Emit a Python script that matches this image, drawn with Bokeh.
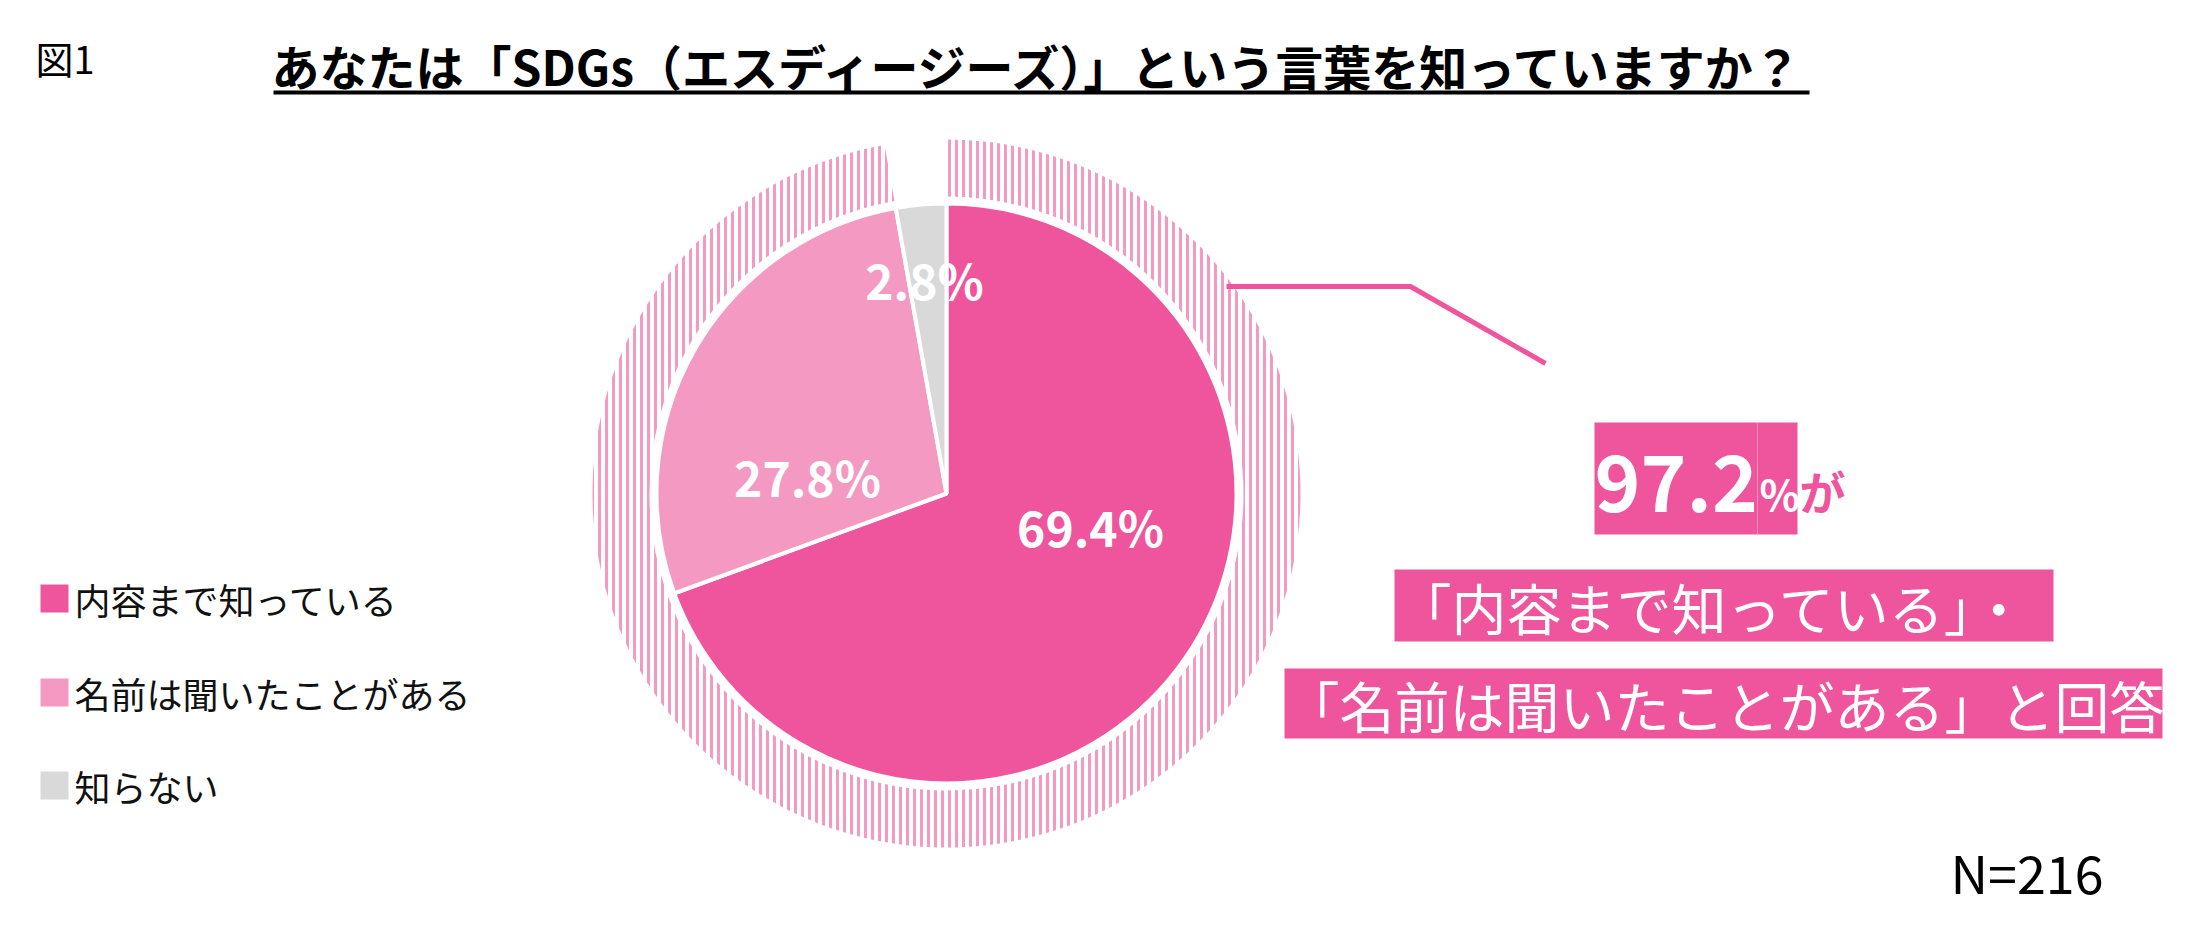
from bokeh.plotting import figure
from bokeh.models import Range1d
from bokeh.core.properties import value
from bokeh.embed import file_html
from bokeh.resources import INLINE
import numpy as np

# ---------------- data ----------------
categories = ["内容まで知っている", "名前は聞いたことがある", "知らない"]
values = [69.4, 27.8, 2.8]
pct_labels = ["69.4%", "27.8%", "2.8%"]
aware_total = 97.2
title_text = "あなたは「SDGs（エスディージーズ）」という言葉を知っていますか？"
fig_label = "図1"
n_label = "N=216"
callout_number = "97.2"
callout_pct = "%"
callout_ga = "が"
callout_line1 = "「内容まで知っている」・"
callout_line2 = "「名前は聞いたことがある」と回答"

# ---------------- styles ----------------
colors = ["#EF559C", "#F49AC2", "#D9D9D9"]
PINK = "#EF559C"
RING = "#F49AC2"
JP = value("Noto Sans CJK JP")

W, H = 2196, 913
PAGE_H = 929


def Y(v):
    return PAGE_H - v  # screen y -> data y


p = figure(width=W, height=H, x_range=Range1d(0, W), y_range=Range1d(PAGE_H - H, PAGE_H),
           output_backend="svg", toolbar_location=None, min_border=0,
           x_axis_type=None, y_axis_type=None)
p.grid.visible = False
p.outline_line_color = None
p.background_fill_color = "white"
p.border_fill_color = "white"

# ---------------- pie ----------------
cx, cy = 946, Y(493)
R = 290
frac = np.array(values) / sum(values)
cum = np.concatenate([[0], np.cumsum(frac)])
start = np.pi / 2 - cum[:-1] * 2 * np.pi
end = np.pi / 2 - cum[1:] * 2 * np.pi

# outer hatched ring showing the "aware" share
p.annular_wedge(x=cx, y=cy, inner_radius=297, outer_radius=354,
                start_angle=np.pi / 2, end_angle=np.pi / 2 - aware_total / 100 * 2 * np.pi,
                direction="clock", fill_color="white", line_color=None,
                hatch_pattern="vertical_line", hatch_color=RING, hatch_weight=3, hatch_scale=7)

p.wedge(x=cx, y=cy, radius=R, start_angle=start, end_angle=end, direction="clock",
        fill_color=colors, line_color="white", line_width=4)

label_offsets = [(144, -32), (-139, 18), (-22, 215)]
p.text(x=[cx + d[0] for d in label_offsets], y=[cy + d[1] for d in label_offsets], text=pct_labels,
       text_font=JP, text_font_style="bold", text_font_size="48px", text_color="white",
       text_align="center", text_baseline="middle")

# ---------------- title ----------------
p.text(x=[35], y=[Y(57)], text=[fig_label], text_font=JP, text_font_size="38px",
       text_color="black", text_align="left", text_baseline="middle")
p.text(x=[271], y=[Y(64)], text=[title_text], text_font=JP, text_font_style="bold",
       text_font_size="48px", text_color="black", text_align="left", text_baseline="middle")
p.segment(x0=[273], y0=[Y(92)], x1=[1809], y1=[Y(92)], line_color="black", line_width=4)

# ---------------- legend ----------------
leg_y = [598, 692, 785]
p.rect(x=[54] * 3, y=[Y(v) for v in leg_y], width=28, height=28, fill_color=colors, line_color=None)
p.text(x=[74] * 3, y=[Y(v) for v in leg_y], text=categories, text_font=JP, text_font_size="36px",
       text_color="#111111", text_align="left", text_baseline="middle")

# ---------------- callout ----------------
p.line(x=[1226, 1410, 1545], y=[Y(286), Y(286), Y(363)], line_color=PINK, line_width=5)

p.quad(left=[1594, 1394, 1284], right=[1797, 2053, 2162],
       top=[Y(422), Y(569), Y(668)], bottom=[Y(534), Y(641), Y(738)],
       fill_color=PINK, line_color=None)
p.segment(x0=[1757], y0=[Y(422)], x1=[1757], y1=[Y(534)], line_color="#F58DBB", line_width=1)

p.text(x=[1594], y=[Y(482)], text=[callout_number], text_font=JP, text_font_style="bold",
       text_font_size="78px", text_color="white", text_align="left", text_baseline="middle")
p.text(x=[1759], y=[Y(492)], text=[callout_pct], text_font=JP, text_font_style="bold",
       text_font_size="42px", text_color="white", text_align="left", text_baseline="middle")
p.text(x=[1799], y=[Y(489)], text=[callout_ga], text_font=JP, text_font_style="bold",
       text_font_size="46px", text_color=PINK, text_align="left", text_baseline="middle")

p.text(x=[1396], y=[Y(605)], text=[callout_line1], text_font=JP, text_font_size="55px",
       text_color="white", text_align="left", text_baseline="middle")
p.text(x=[1284], y=[Y(703)], text=[callout_line2], text_font=JP, text_font_size="55px",
       text_color="white", text_align="left", text_baseline="middle")

# ---------------- N ----------------
p.text(x=[1950], y=[Y(871)], text=[n_label], text_font=JP, text_font_size="52px",
       text_color="black", text_align="left", text_baseline="middle")

open("out.html", "w").write(file_html(p, INLINE))
